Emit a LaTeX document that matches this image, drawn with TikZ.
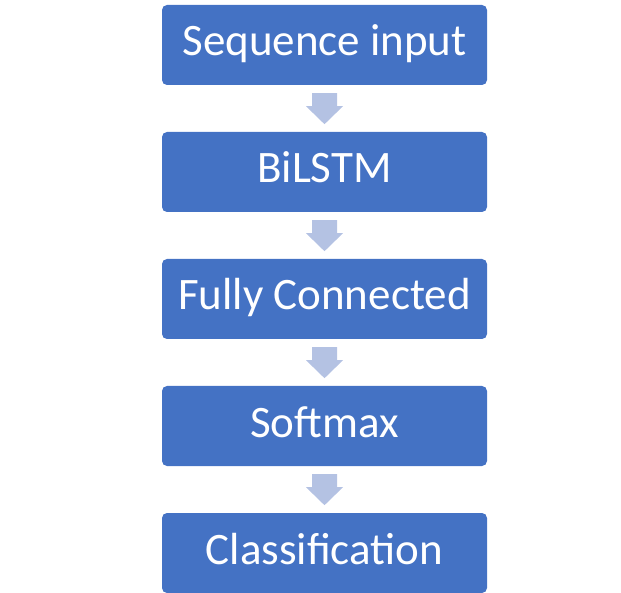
\documentclass[tikz,border=0pt]{standalone}
\usepackage{fontspec}
\setmainfont{Carlito}
\usetikzlibrary{calc}
\definecolor{boxblue}{HTML}{4472C4}
\definecolor{arrowblue}{HTML}{B4C2E3}
\tikzset{
  stepbox/.style={rectangle, rounded corners=5pt, fill=boxblue, draw=none,
    minimum width=325pt, minimum height=80pt, inner sep=0pt,
    text=white, font=\fontsize{45}{45}\selectfont,
    text height=31pt, text depth=9pt},
  blockarrow/.style={fill=arrowblue, draw=none}
}
\begin{document}
\begin{tikzpicture}[x=1pt,y=1pt]
\useasboundingbox (0,0) rectangle (621,-593);
\node[stepbox] (b1) at (324.5,-45) {Sequence input};
\node[stepbox] (b2) at (324.5,-172) {BiLSTM};
\node[stepbox] (b3) at (324.5,-299) {Fully Connected};
\node[stepbox] (b4) at (324.5,-426) {Softmax};
\node[stepbox] (b5) at (324.5,-553) {Classification};
\foreach \a in {b1,b2,b3,b4}{
  \fill[blockarrow] (\a.south) ++(-12.5,-8) -- ++(25,0) -- ++(0,-13) -- ++(6,0)
    -- ++(-18.5,-18) -- ++(-18.5,18) -- ++(6,0) -- cycle;
}
\end{tikzpicture}
\end{document}
